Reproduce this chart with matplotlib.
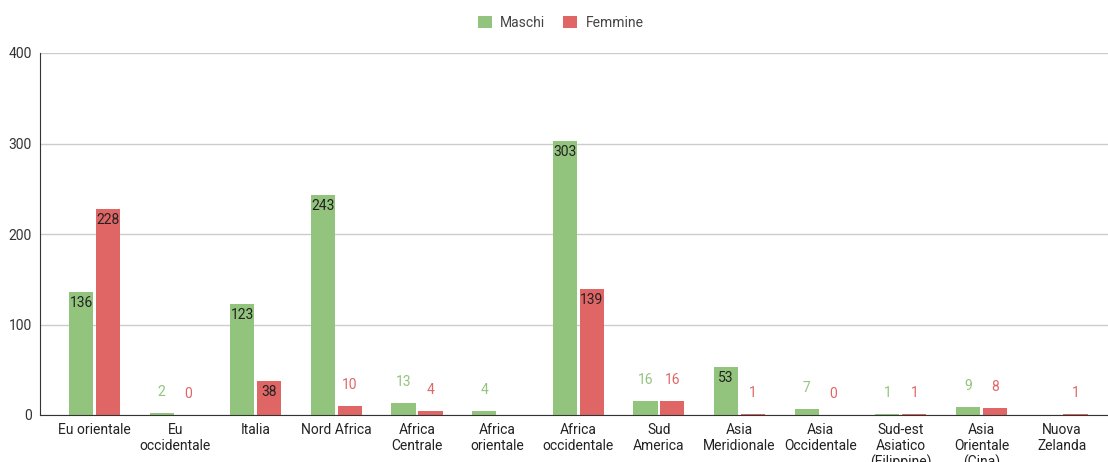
import numpy as np
import matplotlib
matplotlib.use("Agg")
import matplotlib.pyplot as plt

plt.rcParams['font.family'] = ['Roboto', 'DejaVu Sans']

categories = ["Eu orientale", "Eu\noccidentale", "Italia", "Nord Africa",
              "Africa\nCentrale", "Africa\norientale", "Africa\noccidentale",
              "Sud\nAmerica", "Asia\nMeridionale", "Asia\nOccidentale",
              "Sud-est\nAsiatico\n(Filippine)", "Asia\nOrientale\n(Cina)",
              "Nuova\nZelanda"]
maschi = [136, 2, 123, 243, 13, 4, 303, 16, 53, 7, 1, 9, np.nan]
femmine = [228, 0, 38, 10, 4, np.nan, 139, 16, 1, 0, 1, 8, 1]
yticks = [0, 100, 200, 300, 400]

GREEN = "#93c47d"
RED = "#e06666"

fig = plt.figure(figsize=(11.08, 4.62), dpi=100)
ax = fig.add_axes([40 / 1108, (462 - 415) / 462, 1 - 40 / 1108, (415 - 53) / 462])

x = np.arange(len(categories))
w = 0.30
off = 0.167

for vals, dx, col, name in [(maschi, -off, GREEN, "Maschi"), (femmine, off, RED, "Femmine")]:
    v = np.array(vals, dtype=float)
    ax.bar(x + dx, np.nan_to_num(v), width=w, color=col, label=name, zorder=3)
    for xi, val in zip(x, v):
        if np.isnan(val):
            continue
        if val >= 30:
            ax.annotate(f"{int(val)}", (xi + dx, val), xytext=(0, -11),
                        textcoords="offset pixels", ha="center", va="center",
                        fontsize=10, color="#222222", zorder=4)
        else:
            ax.annotate(f"{int(val)}", (xi + dx, val), xytext=(0, 21),
                        textcoords="offset pixels", ha="center", va="center",
                        fontsize=10, color=col, zorder=4)

ax.set_xlim(-0.676, 12.57)
ax.set_ylim(0, 400)
ax.set_yticks(yticks)
ax.set_yticklabels([str(t) for t in yticks], fontsize=10, color="#333333")
ax.set_xticks(x)
ax.set_xticklabels(categories, fontsize=10, color="#222222", linespacing=1.15)
ax.tick_params(axis="both", length=0, pad=6)
ax.grid(axis="y", color="#cccccc", linewidth=1, zorder=0)
for s in ["top", "right"]:
    ax.spines[s].set_visible(False)
ax.spines["left"].set_color("#333333")
ax.spines["bottom"].set_color("#333333")
ax.spines["bottom"].set_zorder(5)

fig.legend(loc="upper center", bbox_to_anchor=(0.506, 0.993), ncol=2, frameon=False,
           fontsize=10, handlelength=1.0, handleheight=1.0, handletextpad=0.6,
           columnspacing=1.3, labelcolor="#444444")

fig.savefig("out.png", dpi=100)
